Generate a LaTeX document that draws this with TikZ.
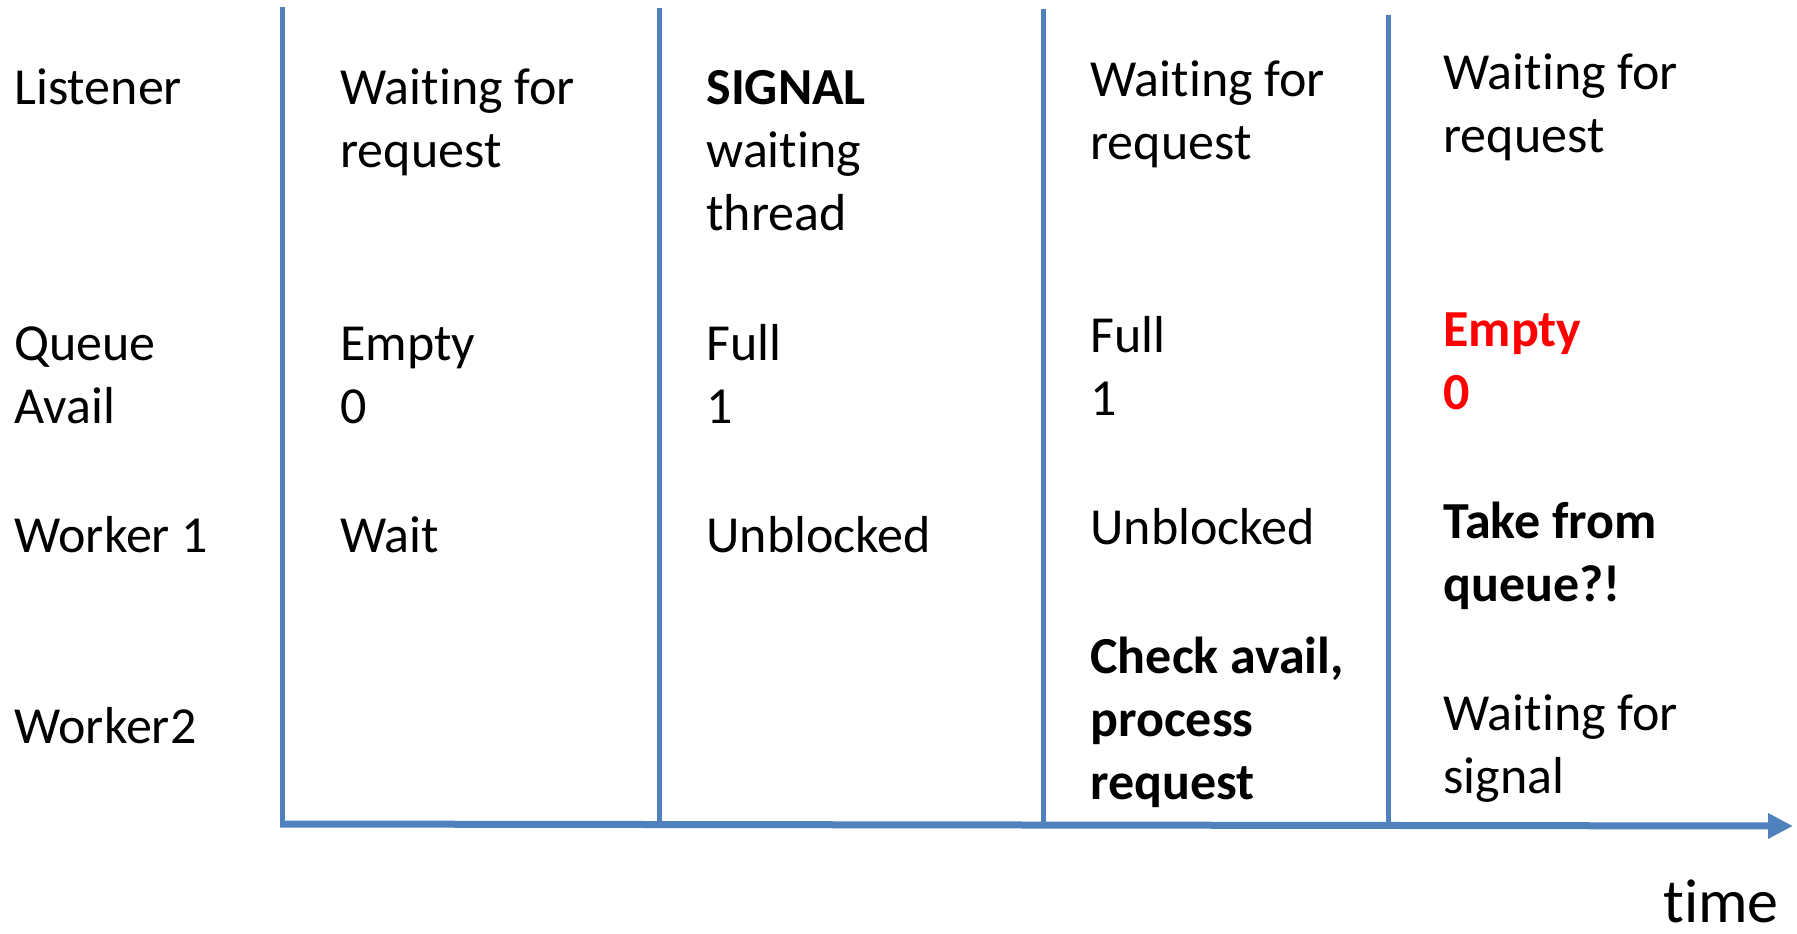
\documentclass[tikz,border=0pt]{standalone}
\usepackage{fontspec}
\setmainfont{Carlito}[Ligatures=NoCommon]
\usepackage{xcolor}
\usetikzlibrary{arrows.meta,positioning}
\definecolor{AxisBlue}{RGB}{79,129,189}
\definecolor{AlertRed}{RGB}{255,0,0}

\begin{document}
\begin{tikzpicture}[x=0.5pt,y=-0.5pt,
    lbl/.style={anchor=base west, inner sep=0pt, align=left, font=\fontsize{26}{31.5}\selectfont},
    sep/.style={AxisBlue, line width=2.5pt}]
        \useasboundingbox (0,0) rectangle (1797,933);
        % column separators and time axis
        \draw[sep] (282,7)--(282,823);
        \draw[sep] (659,8)--(659,824);
        \draw[sep] (1043,9)--(1043,825);
        \draw[sep] (1388,15)--(1388,826);
        \draw[-{Triangle[length=12.5pt,width=12pt]}, AxisBlue, line width=3.5pt] (280,824)--(1793,826);
        \node[lbl, font=\fontsize{31}{37}\selectfont] (time) at (1663,922) {time};
        % row names (base = last line)
        \node[lbl] (listener) at (14,104) {Listener};
        \node[lbl] (queue) at (14,423) {Queue\\Avail};
        \node[lbl] (worker1) at (14,552) {Worker 1};
        \node[lbl] (worker2) at (14,743) {Worker2};
        % step 1
        \node[lbl] (lst1) at (340,167) {Waiting for\\request};
        \node[lbl] (que1) at (340,423) {Empty\\0};
        \node[lbl] (wka1) at (340,552) {Wait};
        % step 2
        \node[lbl] (lst2) at (706,230) {\textbf{SIGNAL}\\waiting\\thread};
        \node[lbl] (que2) at (706,423) {Full\\1};
        \node[lbl] (wka2) at (706,552) {Unblocked};
        % step 3
        \node[lbl] (lst3) at (1090,159) {Waiting for\\request};
        \node[lbl] (que3) at (1090,415) {Full\\1};
        \node[lbl] (wka3) at (1090,544) {Unblocked};
        \node[lbl] (wkb3) at (1090,799) {\textbf{Check avail,}\\\textbf{process}\\\textbf{request}};
        % step 4
        \node[lbl] (lst4) at (1443,152) {Waiting for\\request};
        \node[lbl, text=AlertRed] (que4) at (1443,409) {\textbf{Empty}\\\textbf{0}};
        \node[lbl] (wka4) at (1443,601) {\textbf{Take from}\\\textbf{queue?!}};
        \node[lbl] (wkb4) at (1443,793) {Waiting for\\signal};
\end{tikzpicture}
\end{document}
